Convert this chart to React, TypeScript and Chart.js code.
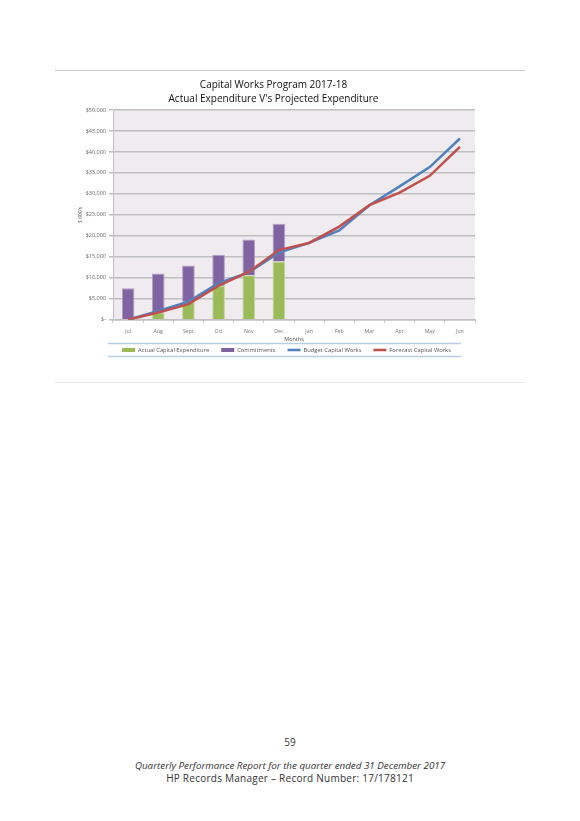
import { Chart, registerables } from 'chart.js';
import type { Plugin } from 'chart.js';
import { useEffect, useRef } from 'react';

Chart.register(...registerables);

const MONTHS = ['Jul', 'Aug', 'Sept', 'Oct', 'Nov', 'Dec', 'Jan', 'Feb', 'Mar', 'Apr', 'May', 'Jun'];

// $ values
const ACTUAL = [0, 1700, 4300, 8100, 10600, 13900];
const COMMITMENTS = [7500, 9300, 8600, 7400, 8500, 9000];
const BUDGET = [0, 2100, 4300, 8700, 11300, 16000, 18300, 21300, 27300, 31800, 36400, 43200];
const FORECAST = [0, 1700, 3700, 8100, 11400, 16600, 18300, 22200, 27300, 30300, 34300, 41200];

const FONT = "'Open Sans', 'Liberation Sans', sans-serif";

const plotBackground: Plugin = {
    id: 'plotBackground',
    beforeDraw(chart) {
        const { ctx, chartArea: a } = chart;
        ctx.save();
        ctx.fillStyle = '#efebef';
        ctx.fillRect(a.left, a.top, a.right - a.left, a.bottom - a.top);
        ctx.restore();
    },
};

// Excel put the legend a little right of centre
const legendShift: Plugin = {
    id: 'legendShift',
    afterLayout(chart) {
        const legend = chart.legend;
        if (!legend) return;
        legend.left += 13;
        legend.right += 13;
    },
};

// the two pale blue rules above and below the legend
const legendRules: Plugin = {
    id: 'legendRules',
    afterDraw(chart) {
        const legend = chart.legend;
        if (!legend || !legend.legendHitBoxes?.length) return;
        const boxes = legend.legendHitBoxes;
        const left = Math.min(...boxes.map((b) => b.left)) - 14;
        const right = Math.max(...boxes.map((b) => b.left + b.width)) + 10;
        const mid = boxes[0].top + boxes[0].height / 2;
        const { ctx } = chart;
        ctx.save();
        ctx.strokeStyle = '#b9cde5';
        ctx.lineWidth = 1.5;
        ctx.beginPath();
        ctx.moveTo(left, mid - 6.5);
        ctx.lineTo(right, mid - 6.5);
        ctx.moveTo(left, mid + 6.5);
        ctx.lineTo(right, mid + 6.5);
        ctx.stroke();
        ctx.restore();
    },
};

function money(v: number) {
    if (v === 0) return '$-';
    return '$' + v.toLocaleString('en-US');
}

function CapitalWorksChart() {
    const canvasRef = useRef<HTMLCanvasElement>(null);
    const chartRef = useRef<Chart | null>(null);

    useEffect(() => {
        if (!canvasRef.current) return;
        chartRef.current?.destroy();

        chartRef.current = new Chart(canvasRef.current, {
            type: 'bar',
            data: {
                labels: MONTHS,
                datasets: [
                    {
                        type: 'bar',
                        label: 'Actual Capital Expenditure',
                        data: ACTUAL,
                        backgroundColor: '#9bbb59',
                        borderColor: '#c3d69b',
                        borderWidth: 1,
                        stack: 'spend',
                        barPercentage: 0.42,
                        categoryPercentage: 1,
                        order: 2,
                    },
                    {
                        type: 'bar',
                        label: 'Commitments',
                        data: COMMITMENTS,
                        backgroundColor: '#8064a2',
                        borderColor: '#b3a2c7',
                        borderWidth: 1,
                        stack: 'spend',
                        barPercentage: 0.42,
                        categoryPercentage: 1,
                        order: 2,
                    },
                    {
                        type: 'line',
                        label: 'Budget Capital Works',
                        data: BUDGET,
                        borderColor: '#4f81bd',
                        backgroundColor: '#4f81bd',
                        borderWidth: 2.5,
                        pointRadius: 0,
                        stack: 'budget',
                        order: 1,
                    },
                    {
                        type: 'line',
                        label: 'Forecast Capital Works',
                        data: FORECAST,
                        borderColor: '#c0504d',
                        backgroundColor: '#c0504d',
                        borderWidth: 2.5,
                        pointRadius: 0,
                        stack: 'forecast',
                        order: 0,
                    },
                ],
            },
            options: {
                responsive: true,
                maintainAspectRatio: false,
                animation: false,
                layout: { padding: { left: 0, right: 9, top: 0, bottom: 0 } },
                plugins: {
                    tooltip: { enabled: false },
                    title: {
                        display: true,
                        text: [
                            'Capital Works Program 2017-18',
                            "Actual Expenditure V's Projected Expenditure",
                        ],
                        color: '#111',
                        font: { family: FONT, size: 10, weight: 'normal', lineHeight: 1.4 },
                        padding: { top: 6, bottom: 4 },
                    },
                    legend: {
                        position: 'bottom',
                        labels: {
                            color: '#555',
                            font: { family: FONT, size: 5.8 },
                            usePointStyle: true,
                            pointStyleWidth: 13,
                            boxHeight: 4,
                            padding: 12,
                            sort: (a, b) => (a.datasetIndex ?? 0) - (b.datasetIndex ?? 0),
                            generateLabels: (chart) =>
                                Chart.defaults.plugins.legend.labels
                                    .generateLabels(chart)
                                    .map((item) => {
                                        const isLine = (item.datasetIndex ?? 0) >= 2;
                                        return {
                                            ...item,
                                            pointStyle: isLine ? 'line' : 'rect',
                                            lineWidth: isLine ? 2.5 : 0,
                                        };
                                    }),
                        },
                    },
                },
                scales: {
                    x: {
                        stacked: true,
                        afterFit: (scale) => {
                            scale.height = 15.5;
                        },
                        grid: {
                            drawOnChartArea: false,
                            color: '#bfbfbf',
                            tickLength: 3,
                        },
                        border: { color: '#bfbfbf', width: 1.5 },
                        ticks: {
                            color: '#777',
                            font: { family: FONT, size: 5.2 },
                            padding: 6,
                        },
                        title: {
                            display: true,
                            text: 'Months',
                            color: '#555',
                            font: { family: FONT, size: 5.5 },
                            padding: { top: 1, bottom: -7.8 },
                        },
                    },
                    y: {
                        stacked: true,
                        min: 0,
                        max: 50000,
                        afterFit: (scale) => {
                            scale.width = 41;
                        },
                        ticks: {
                            stepSize: 5000,
                            color: '#6a6a6a',
                            font: { family: FONT, size: 5.5 },
                            padding: 3,
                            callback: (v) => money(Number(v)),
                        },
                        grid: {
                            color: '#bfbfbf',
                            lineWidth: 1.5,
                            tickLength: 4,
                        },
                        border: { color: '#bfbfbf', width: 1 },
                        title: {
                            display: true,
                            text: "$ 000's",
                            color: '#555',
                            font: { family: FONT, size: 5 },
                            padding: { top: 5.5, bottom: 0 },
                        },
                    },
                },
            },
            plugins: [plotBackground, legendShift, legendRules],
        });

        return () => {
            chartRef.current?.destroy();
            chartRef.current = null;
        };
    }, []);

    return (
        <div style={{ position: 'absolute', left: 72, top: 72, width: 412, height: 291 }}>
            <canvas ref={canvasRef} />
        </div>
    );
}

export default function App() {
    return (
        <div
            style={{
                position: 'absolute',
                left: 0,
                top: 0,
                width: 580,
                height: 821,
                background: '#fff',
                fontFamily: FONT,
                color: '#333',
            }}
        >
            <div style={{ position: 'absolute', left: 55, top: 70, width: 470, height: 1, background: '#c8c8c8' }} />
            <CapitalWorksChart />
            <div style={{ position: 'absolute', left: 55, top: 382, width: 470, height: 1, background: '#e6e6e6' }} />
            <div
                style={{
                    position: 'absolute',
                    top: 735,
                    left: 0,
                    width: 580,
                    textAlign: 'center',
                    fontSize: 10,
                }}
            >
                59
            </div>
            <div
                style={{
                    position: 'absolute',
                    top: 760,
                    left: 0,
                    width: 580,
                    textAlign: 'center',
                    fontSize: 9.8,
                    lineHeight: '12px',
                }}
            >
                <div style={{ fontStyle: 'italic' }}>
                    Quarterly Performance Report for the quarter ended 31 December 2017
                </div>
                <div style={{ fontSize: 10, letterSpacing: 0.25 }}>
                    HP Records Manager – Record Number: 17/178121
                </div>
            </div>
        </div>
    );
}
